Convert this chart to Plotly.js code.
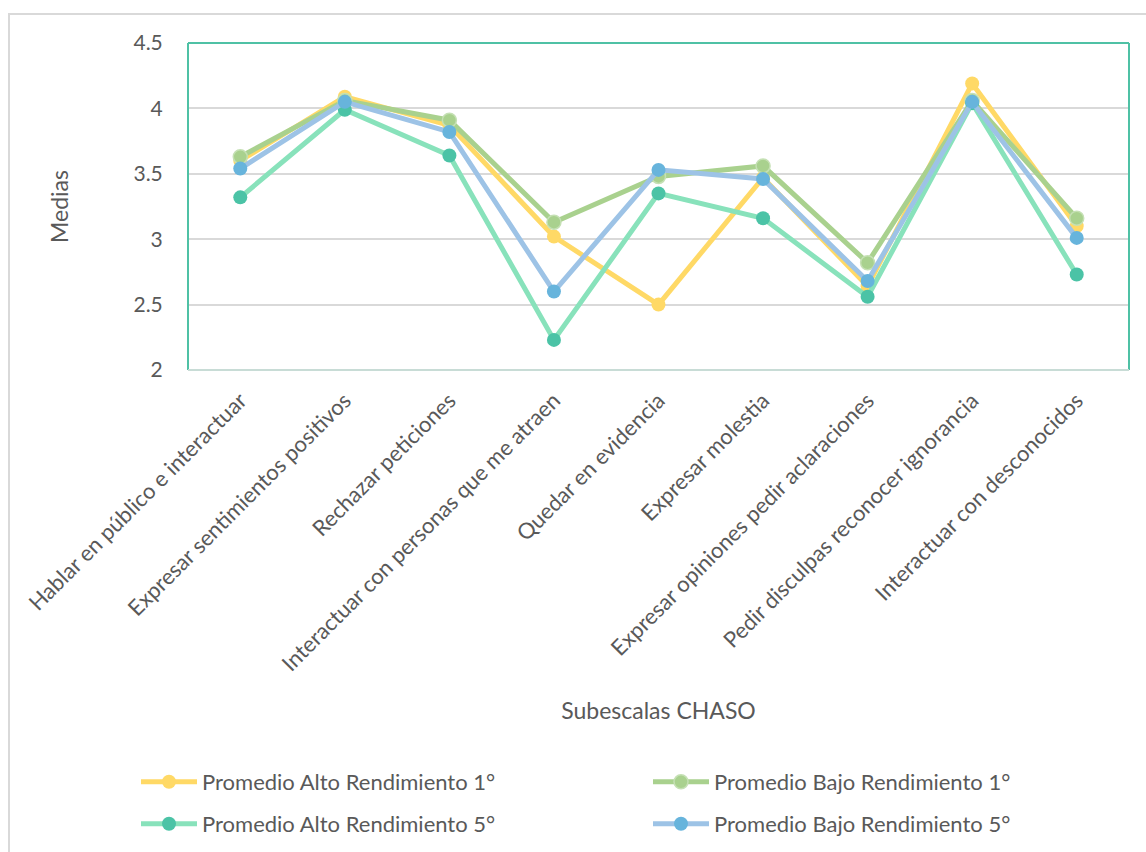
<!DOCTYPE html>
<html>
<head>
<meta charset="utf-8">
<script src="https://cdn.plot.ly/plotly-3.0.1.min.js"></script>
<style>
  html, body { margin: 0; padding: 0; background: #ffffff; }
  #wrap { position: relative; width: 1146px; height: 852px; overflow: hidden; }
  #frame { position: absolute; left: 8px; top: 13px; width: 1200px; height: 900px;
           border-left: 2px solid #d9d9d9; border-top: 2px solid #d9d9d9; }
  #chart { position: absolute; left: 0; top: 0; width: 1146px; height: 852px; }
</style>
</head>
<body>
<div id="wrap">
  <div id="frame"></div>
  <div id="chart"></div>
</div>
<script>
// CHASO subscales
const categories = [
  'Hablar en público e interactuar',
  'Expresar sentimientos positivos',
  'Rechazar peticiones',
  'Interactuar con personas que me atraen',
  'Quedar en evidencia',
  'Expresar molestia',
  'Expresar opiniones pedir aclaraciones',
  'Pedir disculpas reconocer ignorancia',
  'Interactuar con desconocidos'
];

// Mean scores per group
const altoRend1 = [3.60, 4.09, 3.87, 3.02, 2.50, 3.47, 2.64, 4.19, 3.10];
const bajoRend1 = [3.63, 4.06, 3.91, 3.13, 3.48, 3.56, 2.82, 4.06, 3.16];
const altoRend5 = [3.32, 3.99, 3.64, 2.23, 3.35, 3.16, 2.56, 4.04, 2.73];
const bajoRend5 = [3.54, 4.05, 3.82, 2.60, 3.53, 3.46, 2.68, 4.05, 3.01];

const seriesNames = [
  'Promedio Alto Rendimiento 1°',
  'Promedio Bajo Rendimiento 1°',
  'Promedio Alto Rendimiento 5°',
  'Promedio Bajo Rendimiento 5°'
];

const textColor = '#595959';
const fontFamily = 'Lato, "Open Sans", sans-serif';

function series(name, y, lineColor, markerColor, markerLine, legendId) {
  return {
    type: 'scatter',
    mode: 'lines+markers',
    name: name,
    x: categories,
    y: y,
    legend: legendId,
    line: { color: lineColor, width: 5 },
    marker: { color: markerColor, size: 14,
              line: { color: markerLine, width: markerLine === markerColor ? 0 : 1.5 } }
  };
}

const traces = [
  series(seriesNames[0], altoRend1, '#FFD966', '#FFD966', '#FFD966', 'legend'),
  series(seriesNames[1], bajoRend1, '#A9D18E', '#A9D18E', '#C5E0B4', 'legend2'),
  series(seriesNames[2], altoRend5, '#88E2BB', '#4BC3A6', '#4BC3A6', 'legend3'),
  series(seriesNames[3], bajoRend5, '#9DC3E6', '#67B4DC', '#67B4DC', 'legend4')
];

// plot area in pixels
const plotL = 188, plotR = 1129, plotT = 43, plotB = 370;
const plotW = plotR - plotL, plotH = plotB - plotT;
function legendAt(px, py) {
  return {
    orientation: 'h',
    xanchor: 'left',
    yanchor: 'middle',
    x: (px - plotL) / plotW,
    y: (plotB - py) / plotH,
    itemwidth: 56,
    bgcolor: 'rgba(0,0,0,0)',
    font: { family: fontFamily, size: 22, color: textColor }
  };
}

const layout = {
  width: 1146,
  height: 852,
  margin: { l: plotL, r: 1146 - plotR, t: plotT, b: 852 - plotB, autoexpand: false },
  paper_bgcolor: 'rgba(0,0,0,0)',
  plot_bgcolor: '#ffffff',
  font: { family: fontFamily, color: textColor },
  showlegend: true,
  legend: legendAt(136, 782),
  legend2: legendAt(648, 782),
  legend3: legendAt(136, 824),
  legend4: legendAt(648, 824),
  xaxis: {
    type: 'category',
    range: [-0.5, 8.5],
    tickangle: -45,
    ticks: 'outside',
    ticklen: 8,
    tickcolor: 'rgba(0,0,0,0)',
    tickfont: { family: fontFamily, size: 22, color: textColor },
    showgrid: false,
    showline: false,
    zeroline: false,
    automargin: false,
    title: { text: 'Subescalas CHASO', font: { family: fontFamily, size: 23, color: textColor }, standoff: 27 }
  },
  yaxis: {
    range: [2, 4.5],
    dtick: 0.5,
    tick0: 2,
    ticks: 'outside',
    ticklen: 20,
    tickcolor: 'rgba(0,0,0,0)',
    tickfont: { family: fontFamily, size: 21, color: textColor },
    showgrid: true,
    gridcolor: '#d9d9d9',
    gridwidth: 2,
    zeroline: false,
    showline: false,
    automargin: false,
    title: { text: 'Medias', font: { family: fontFamily, size: 23, color: textColor }, standoff: 58 }
  },
  shapes: [
    { type: 'line', xref: 'paper', yref: 'paper', x0: 0, x1: 0, y0: 0, y1: 1, line: { color: '#4FC1A5', width: 2 } },
    { type: 'line', xref: 'paper', yref: 'paper', x0: 0, x1: 1, y0: 1, y1: 1, line: { color: '#4FC1A5', width: 2 } },
    { type: 'line', xref: 'paper', yref: 'paper', x0: 1, x1: 1, y0: 0, y1: 1, line: { color: '#4FC1A5', width: 2 } },
    { type: 'line', xref: 'paper', yref: 'paper', x0: 0, x1: 1, y0: 0, y1: 0, line: { color: '#C8DCD6', width: 2 } }
  ]
};

Plotly.newPlot('chart', traces, layout, { displayModeBar: false, staticPlot: true });
</script>
</body>
</html>
